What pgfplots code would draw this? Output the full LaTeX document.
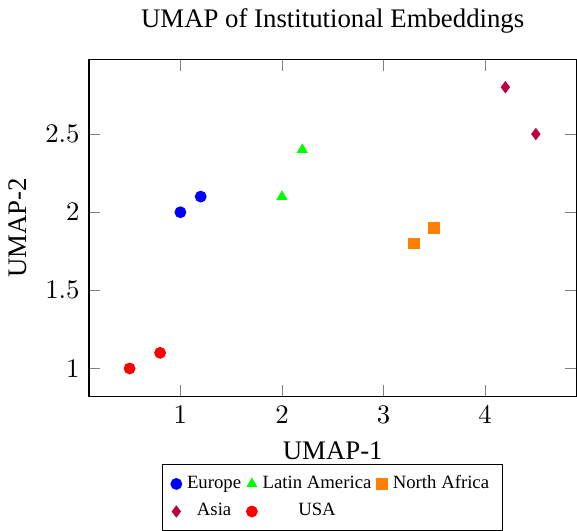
\documentclass[border=0pt]{standalone}
\usepackage{pgfplots}
\pgfplotsset{compat=1.18}
\usepackage{fontspec}
\setmainfont{Liberation Serif}
\begin{document}
\begin{tikzpicture}
\begin{axis}[
  scale only axis,
  width=182pt, height=126pt,
  title={UMAP of Institutional Embeddings},
  xlabel={UMAP-1}, ylabel={UMAP-2},
  xmin=0.1, xmax=4.9, ymin=0.82, ymax=2.98,
  xtick={1,2,3,4}, ytick={1,1.5,2,2.5},
  legend columns=3,
  legend cell align=center,
  legend style={at={(0.5,-0.2)}, anchor=north, font=\scriptsize},
]
\addplot[only marks, mark=*, color=blue] coordinates {(1,2) (1.2,2.1)};
\addlegendentry{Europe}
\addplot[only marks, mark=triangle*, color=green] coordinates {(2,2.1) (2.2,2.4)};
\addlegendentry{Latin America}
\addplot[only marks, mark=square*, color=orange] coordinates {(3.3,1.8) (3.5,1.9)};
\addlegendentry{North Africa}
\addplot[only marks, mark=diamond*, color=purple] coordinates {(4.2,2.8) (4.5,2.5)};
\addlegendentry{Asia}
\addplot[only marks, mark=*, color=red] coordinates {(0.5,1) (0.8,1.1)};
\addlegendentry{USA}
\end{axis}
\end{tikzpicture}
\end{document}
